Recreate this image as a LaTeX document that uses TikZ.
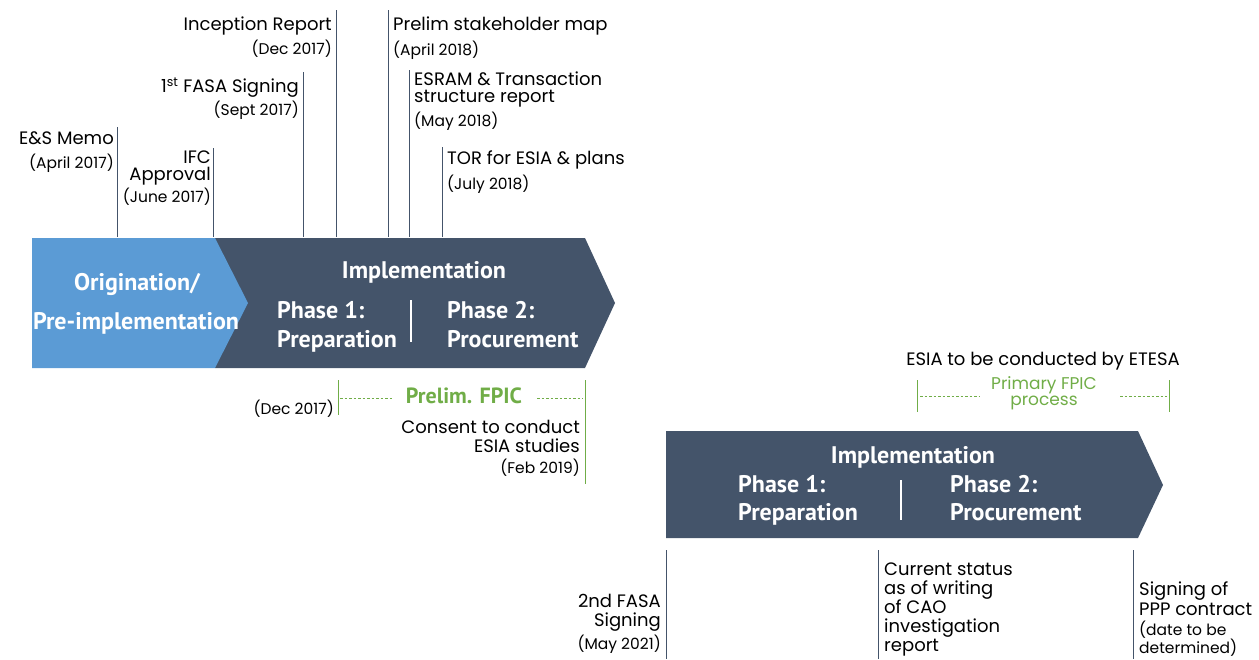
\documentclass[tikz,border=0pt]{standalone}
\usepackage{fontspec}
\setmainfont{Poppins}
\newfontfamily\chevfont{PT Sans}
\definecolor{lblue}{HTML}{5B9BD5}
\definecolor{slate}{HTML}{44546A}
\definecolor{fgreen}{HTML}{70AD47}
\begin{document}
\begin{tikzpicture}[x=1pt,y=-1pt,
  lbl/.style={inner sep=0pt, yshift=-2.5pt, font=\fontsize{18}{20}\selectfont, text height=1.45ex, text depth=0.3ex},
  dt/.style={inner sep=0pt, yshift=-2.5pt, font=\fontsize{15.5}{17}\selectfont, text height=1.45ex, text depth=0.3ex},
  chev/.style={inner sep=0pt, yshift=-3pt, font=\chevfont\bfseries\fontsize{24}{26}\selectfont, text=white, text height=1.45ex, text depth=0.3ex},
  glbl/.style={inner sep=0pt, yshift=-2.5pt, text=fgreen, text height=1.45ex, text depth=0.3ex},
  tick/.style={draw=slate, line width=0.9pt},
  gtick/.style={draw=fgreen, line width=0.9pt},
  gdash/.style={draw=fgreen, line width=0.7pt, dash pattern=on 2.5pt off 2pt},
  divl/.style={draw=white, line width=1.8pt}]
\useasboundingbox (0,0) rectangle (1259,659);

% ---- first chevron ----
\fill[slate] (215,238) -- (585,238) -- (615,303) -- (585,368) -- (215,368) -- cycle;
\fill[lblue] (32,238) -- (215,238) -- (248,303) -- (215,368) -- (32,368) -- cycle;
\node[chev] (orig) at (137,284) {Origination/};
\node[chev] (preimp) at (136,323) {Pre-implementation};
\node[chev] (imp1) at (424,272) {Implementation};
\node[chev,anchor=west] (p1a) at (277,312) {Phase 1:};
\node[chev,anchor=west] (p1b) at (277,341) {Preparation};
\node[chev,anchor=west] (p2a) at (447,312) {Phase 2:};
\node[chev,anchor=west] (p2b) at (447,341) {Procurement};
\coordinate (d1t) at (411,300); \coordinate (d1b) at (411,342);
\draw[divl] (d1t) -- (d1b);

% ---- milestones above ----
\coordinate (m1t) at (117,127); \coordinate (m1b) at (117,237);
\draw[tick] (m1t) -- (m1b);
\node[lbl,anchor=east] (esmemo) at (114,139) {E\&S Memo};
\node[dt,anchor=east] (esdate) at (114,163) {(April 2017)};

\coordinate (m2t) at (213,148); \coordinate (m2b) at (213,237);
\draw[tick] (m2t) -- (m2b);
\node[lbl,anchor=east] (ifc) at (211,158) {IFC};
\node[lbl,anchor=east] (appr) at (211,175) {Approval};
\node[dt,anchor=east] (ifcdate) at (211,197) {(June 2017)};

\coordinate (m3t) at (303,72); \coordinate (m3b) at (303,237);
\draw[tick] (m3t) -- (m3b);
\node[lbl,anchor=east] (fasa1) at (299,87) {1\textsuperscript{st} FASA Signing};
\node[dt,anchor=east] (fasa1date) at (299,110) {(Sept 2017)};

\coordinate (m4t) at (336,10); \coordinate (m4b) at (336,237);
\draw[tick] (m4t) -- (m4b);
\node[lbl,anchor=east] (incep) at (332,25) {Inception Report};
\node[dt,anchor=east] (incepdate) at (332,49) {(Dec 2017)};

\coordinate (m5t) at (388,10); \coordinate (m5b) at (388,237);
\draw[tick] (m5t) -- (m5b);
\node[lbl,anchor=west] (stake) at (393,25) {Prelim stakeholder map};
\node[dt,anchor=west] (stakedate) at (393,50) {(April 2018)};

\coordinate (m6t) at (409,70); \coordinate (m6b) at (409,237);
\draw[tick] (m6t) -- (m6b);
\node[lbl,anchor=west] (esram) at (414,80) {ESRAM \& Transaction};
\node[lbl,anchor=west] (struct) at (414,97) {structure report};
\node[dt,anchor=west] (esramdate) at (414,121) {(May 2018)};

\coordinate (m7t) at (442,147); \coordinate (m7b) at (442,237);
\draw[tick] (m7t) -- (m7b);
\node[lbl,anchor=west] (tor) at (447,159) {TOR for ESIA \& plans};
\node[dt,anchor=west] (tordate) at (447,184) {(July 2018)};

% ---- prelim FPIC ----
\coordinate (g1t) at (338,380); \coordinate (g1b) at (338,415);
\draw[gtick] (g1t) -- (g1b);
\coordinate (g2t) at (585,380); \coordinate (g2b) at (585,484);
\draw[gtick] (g2t) -- (g2b);
\node[dt,anchor=east] (fpicdate) at (334,409) {(Dec 2017)};
\node[glbl,font=\chevfont\bfseries\fontsize{22}{24}\selectfont] (pfpic) at (464,398) {Prelim. FPIC};
\coordinate (gd1) at (340,398); \coordinate (gd1e) at (392,398);
\coordinate (gd2) at (537,398); \coordinate (gd2e) at (583,398);
\draw[gdash] (gd1) -- (gd1e);
\draw[gdash] (gd2) -- (gd2e);
\node[lbl,anchor=east] (consent) at (580,428) {Consent to conduct};
\node[lbl,anchor=east] (esiast) at (580,447) {ESIA studies};
\node[dt,anchor=east] (consdate) at (580,468) {(Feb 2019)};

% ---- primary FPIC ----
\node[lbl] (etesa) at (1043,360) {ESIA to be conducted by ETESA};
\coordinate (g3t) at (917,380); \coordinate (g3b) at (917,412);
\draw[gtick] (g3t) -- (g3b);
\coordinate (g4t) at (1169,380); \coordinate (g4b) at (1169,412);
\draw[gtick] (g4t) -- (g4b);
\node[glbl,font=\fontsize{17}{19}\selectfont] (prim) at (1044,384) {Primary FPIC};
\node[glbl,font=\fontsize{17}{19}\selectfont] (proc) at (1044,400) {process};
\coordinate (gd3) at (920,396); \coordinate (gd3e) at (980,396);
\coordinate (gd4) at (1120,396); \coordinate (gd4e) at (1167,396);
\draw[gdash] (gd3) -- (gd3e);
\draw[gdash] (gd4) -- (gd4e);

% ---- second chevron ----
\fill[slate] (666,431) -- (1138,431) -- (1163,485) -- (1138,538) -- (666,538) -- cycle;
\node[chev] (imp2) at (913,457) {Implementation};
\node[chev,anchor=west] (q1a) at (738,486) {Phase 1:};
\node[chev,anchor=west] (q1b) at (738,514) {Preparation};
\node[chev,anchor=west] (q2a) at (950,486) {Phase 2:};
\node[chev,anchor=west] (q2b) at (950,514) {Procurement};
\coordinate (d2t) at (901,480); \coordinate (d2b) at (901,520);
\draw[divl] (d2t) -- (d2b);

% ---- milestones below ----
\coordinate (n1t) at (666,550); \coordinate (n1b) at (666,659);
\draw[tick] (n1t) -- (n1b);
\node[lbl,anchor=east] (fasa2) at (661,602) {2nd FASA};
\node[lbl,anchor=east] (sign2) at (661,621) {Signing};
\node[dt,anchor=east] (fasa2date) at (661,644) {(May 2021)};

\coordinate (n2t) at (878,550); \coordinate (n2b) at (878,659);
\draw[tick] (n2t) -- (n2b);
\node[lbl,anchor=west] (cur1) at (884,570) {Current status};
\node[lbl,anchor=west] (cur2) at (884,589) {as of writing};
\node[lbl,anchor=west] (cur3) at (884,608) {of CAO};
\node[lbl,anchor=west] (cur4) at (884,627) {investigation};
\node[lbl,anchor=west] (cur5) at (884,646) {report};

\coordinate (n3t) at (1133,550); \coordinate (n3b) at (1133,659);
\draw[tick] (n3t) -- (n3b);
\node[lbl,anchor=west] (ppp1) at (1139,590) {Signing of};
\node[lbl,anchor=west] (ppp2) at (1139,610) {PPP contract};
\node[dt,anchor=west] (ppp3) at (1139,630) {(date to be};
\node[dt,anchor=west] (ppp4) at (1139,648) {determined)};
\end{tikzpicture}
\end{document}
